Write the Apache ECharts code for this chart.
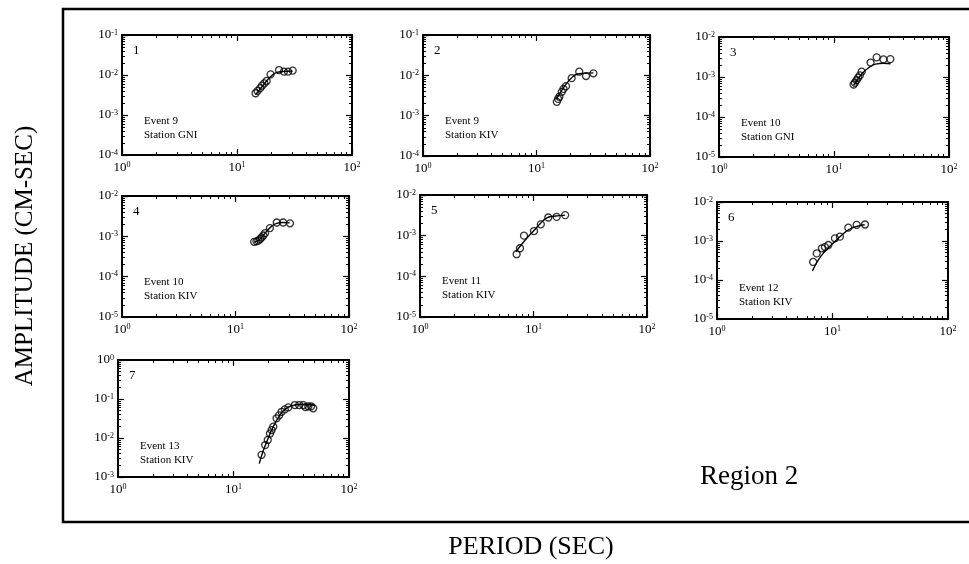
<!DOCTYPE html>
<html>
<head>
<meta charset="utf-8">
<script src="https://cdn.jsdelivr.net/npm/echarts@6/dist/echarts.min.js"></script>
<style>
  html, body { margin: 0; padding: 0; background: #fff; }
  #chart { width: 969px; height: 564px; }
</style>
</head>
<body>
<div id="chart"></div>
<script>
// panel 1 - event 9, station GNI
var p1Period = [14.5, 15.1, 15.9, 16.5, 17.3, 18.1, 19.6, 23.2, 25.6, 27.8, 30.5]
var p1Amp = [3.5e-3, 4.0e-3, 4.7e-3, 5.4e-3, 6.2e-3, 7.1e-3, 1.04e-2, 1.33e-2, 1.21e-2, 1.21e-2, 1.29e-2]
var p1FitPeriod = [14.5, 16, 18, 20, 22, 25, 30.5]
var p1FitAmp = [3.2e-3, 4.6e-3, 7.0e-3, 9.6e-3, 1.15e-2, 1.22e-2, 1.25e-2]

// panel 2 - event 9, station KIV
var p2Period = [15.1, 15.5, 15.9, 16.7, 17.3, 18.2, 20.4, 23.8, 27.3, 31.7]
var p2Amp = [2.2e-3, 2.6e-3, 2.95e-3, 3.9e-3, 4.6e-3, 5.4e-3, 8.5e-3, 1.23e-2, 9.6e-3, 1.12e-2]
var p2FitPeriod = [15, 16.5, 18, 20, 23, 26, 31.7]
var p2FitAmp = [2.6e-3, 4.0e-3, 5.8e-3, 8.2e-3, 1.08e-2, 1.12e-2, 1.15e-2]

// panel 3 - event 10, station GNI
var p3Period = [14.8, 15.2, 15.7, 16.2, 16.8, 17.4, 20.8, 23.5, 26.9, 30.9]
var p3Amp = [6.5e-4, 7.2e-4, 8.3e-4, 9.6e-4, 1.1e-3, 1.36e-3, 2.3e-3, 3.1e-3, 2.75e-3, 2.8e-3]
var p3FitPeriod = [14.8, 16, 17.5, 20, 23, 27, 31]
var p3FitAmp = [6.2e-4, 8.5e-4, 1.2e-3, 1.7e-3, 2.1e-3, 2.2e-3, 2.15e-3]

// panel 4 - event 10, station KIV
var p4Period = [14.6, 15.3, 15.9, 16.5, 17.0, 17.6, 18.2, 20.1, 23.1, 26.3, 30.2]
var p4Amp = [7.3e-4, 7.5e-4, 7.8e-4, 8.6e-4, 9.4e-4, 1.05e-3, 1.2e-3, 1.6e-3, 2.2e-3, 2.2e-3, 2.1e-3]
var p4FitPeriod = [14.6, 16, 18, 20, 23, 26, 30]
var p4FitAmp = [7.2e-4, 8.0e-4, 1.15e-3, 1.6e-3, 2.1e-3, 2.2e-3, 2.15e-3]

// panel 5 - event 11, station KIV
var p5Period = [7.1, 7.6, 8.25, 10.1, 11.6, 13.5, 16, 19]
var p5Amp = [3.5e-4, 4.9e-4, 1.0e-3, 1.3e-3, 1.9e-3, 2.8e-3, 2.9e-3, 3.2e-3]
var p5FitPeriod = [7, 8, 9, 10, 11.5, 13, 15, 19]
var p5FitAmp = [4.0e-4, 6.5e-4, 9.5e-4, 1.3e-3, 2.0e-3, 2.7e-3, 3.0e-3, 3.2e-3]

// panel 6 - event 12, station KIV
var p6Period = [6.8, 7.3, 8.1, 8.6, 9.2, 10.5, 11.6, 13.7, 16.2, 19.1]
var p6Amp = [2.9e-4, 4.8e-4, 6.5e-4, 7.0e-4, 7.9e-4, 1.17e-3, 1.29e-3, 2.2e-3, 2.6e-3, 2.65e-3]
var p6FitPeriod = [6.7, 7.5, 8.5, 10, 12, 14, 16.5, 19]
var p6FitAmp = [1.7e-4, 3.2e-4, 5.2e-4, 8.5e-4, 1.4e-3, 2.0e-3, 2.4e-3, 2.6e-3]

// panel 7 - event 13, station KIV
var p7Period = [17.5, 18.8, 19.8, 20.7, 21.4, 22.1, 23.6, 24.8, 26.1, 27.8, 29.8, 34, 37, 40.2, 42, 44.5, 47, 49]
var p7Amp = [3.7e-3, 6.6e-3, 8.9e-3, 1.3e-2, 1.6e-2, 1.95e-2, 3.2e-2, 3.8e-2, 4.7e-2, 5.4e-2, 6.1e-2, 7.0e-2, 7.0e-2, 7.0e-2, 6.2e-2, 6.5e-2, 6.5e-2, 5.8e-2]
var p7FitPeriod = [16.7, 18, 20, 22, 25, 28, 32, 38, 45, 50]
var p7FitAmp = [2.2e-3, 4.5e-3, 1.0e-2, 1.9e-2, 3.7e-2, 5.5e-2, 6.7e-2, 7.2e-2, 7.1e-2, 7.0e-2]

var panelNumbers = ['1', '2', '3', '4', '5', '6', '7']
var eventNames = ['Event 9', 'Event 9', 'Event 10', 'Event 10', 'Event 11', 'Event 12', 'Event 13']
var stationNames = ['Station GNI', 'Station KIV', 'Station GNI', 'Station KIV', 'Station KIV', 'Station KIV', 'Station KIV']
var periodRange = [1, 100]
var ampMin = [1e-4, 1e-4, 1e-5, 1e-5, 1e-5, 1e-5, 1e-3]
var ampMax = [1e-1, 1e-1, 1e-2, 1e-2, 1e-2, 1e-2, 1e0]

var xTitle = 'PERIOD (SEC)'
var yTitle = 'AMPLITUDE (CM-SEC)'
var regionLabel = 'Region 2'

var panels = [
  [p1Period, p1Amp, p1FitPeriod, p1FitAmp],
  [p2Period, p2Amp, p2FitPeriod, p2FitAmp],
  [p3Period, p3Amp, p3FitPeriod, p3FitAmp],
  [p4Period, p4Amp, p4FitPeriod, p4FitAmp],
  [p5Period, p5Amp, p5FitPeriod, p5FitAmp],
  [p6Period, p6Amp, p6FitPeriod, p6FitAmp],
  [p7Period, p7Amp, p7FitPeriod, p7FitAmp]
]

// plot boxes [left, top, width, height]
var boxes = [
  [122, 35, 230, 120],
  [423, 35, 227, 121],
  [719, 37, 230, 120],
  [122, 196, 227, 121],
  [420, 195, 227, 122],
  [717, 202, 231, 117],
  [118, 360, 231, 117]
]

var serif = '"Liberation Serif", "DejaVu Serif", serif'

function zip (a, b) {
  var out = []
  for (var i = 0; i < a.length; i++) out.push([a[i], b[i]])
  return out
}

function powLabel (v) {
  var e = Math.round(Math.log(v) / Math.LN10)
  return '{b|10}{s|' + e + '}'
}

var rich = {
  b: { fontFamily: serif, fontSize: 13, color: '#000' },
  s: { fontFamily: serif, fontSize: 8, color: '#000', verticalAlign: 'top' }
}

function makeAxis (kind, i, pos, showLabel, min, max) {
  return {
    type: 'log',
    logBase: 10,
    gridIndex: i,
    position: pos,
    min: min,
    max: max,
    axisLine: { show: true, onZero: false, lineStyle: { color: '#000', width: 2 } },
    axisTick: { show: true, inside: true, length: 6, lineStyle: { color: '#000', width: 1.2 } },
    minorTick: { show: true, splitNumber: 9, length: 3, lineStyle: { color: '#000', width: 1 } },
    splitLine: { show: false },
    minorSplitLine: { show: false },
    axisLabel: {
      show: showLabel,
      margin: kind === 'x' ? 6 : 4,
      formatter: powLabel,
      rich: rich
    }
  }
}

var grids = [], xAxes = [], yAxes = [], series = [], graphics = []

panels.forEach(function (p, i) {
  var b = boxes[i]
  grids.push({ left: b[0], top: b[1], width: b[2], height: b[3] })
  xAxes.push(makeAxis('x', i, 'bottom', true, periodRange[0], periodRange[1]))
  xAxes.push(makeAxis('x', i, 'top', false, periodRange[0], periodRange[1]))
  yAxes.push(makeAxis('y', i, 'left', true, ampMin[i], ampMax[i]))
  yAxes.push(makeAxis('y', i, 'right', false, ampMin[i], ampMax[i]))
  series.push({
    type: 'line',
    xAxisIndex: i * 2,
    yAxisIndex: i * 2,
    data: zip(p[2], p[3]),
    smooth: true,
    showSymbol: false,
    silent: true,
    lineStyle: { color: '#000', width: 1.4 },
    z: 2
  })
  series.push({
    type: 'scatter',
    xAxisIndex: i * 2,
    yAxisIndex: i * 2,
    data: zip(p[0], p[1]),
    symbol: 'circle',
    symbolSize: 7,
    silent: true,
    itemStyle: { color: 'rgba(255,255,255,0)', borderColor: '#000', borderWidth: 1.3 },
    z: 3
  })
  graphics.push({
    type: 'text',
    left: b[0] + 11,
    top: b[1] + 9,
    style: { text: panelNumbers[i], font: '13px ' + serif, fill: '#000' }
  })
  graphics.push({
    type: 'text',
    left: b[0] + 22,
    top: b[1] + 79,
    style: { text: eventNames[i] + '\n' + stationNames[i], font: '11px ' + serif, lineHeight: 14, fill: '#000' }
  })
})

// outer frame
graphics.push({
  type: 'rect',
  shape: { x: 63, y: 9, width: 930, height: 513 },
  style: { fill: 'none', stroke: '#000', lineWidth: 2.5 }
})
graphics.push({
  type: 'text',
  x: 25,
  y: 256,
  rotation: Math.PI / 2,
  style: { text: yTitle, font: '25px ' + serif, fill: '#000', align: 'center', verticalAlign: 'middle' }
})
graphics.push({
  type: 'text',
  x: 531,
  y: 547,
  style: { text: xTitle, font: '26px ' + serif, fill: '#000', align: 'center', verticalAlign: 'middle' }
})
graphics.push({
  type: 'text',
  x: 700,
  y: 477,
  style: { text: regionLabel, font: '27px ' + serif, fill: '#000', align: 'left', verticalAlign: 'middle' }
})

var myChart = echarts.init(document.getElementById('chart'))
myChart.setOption({
  animation: false,
  backgroundColor: '#fff',
  grid: grids,
  xAxis: xAxes,
  yAxis: yAxes,
  series: series,
  graphic: graphics
})
</script>
</body>
</html>
